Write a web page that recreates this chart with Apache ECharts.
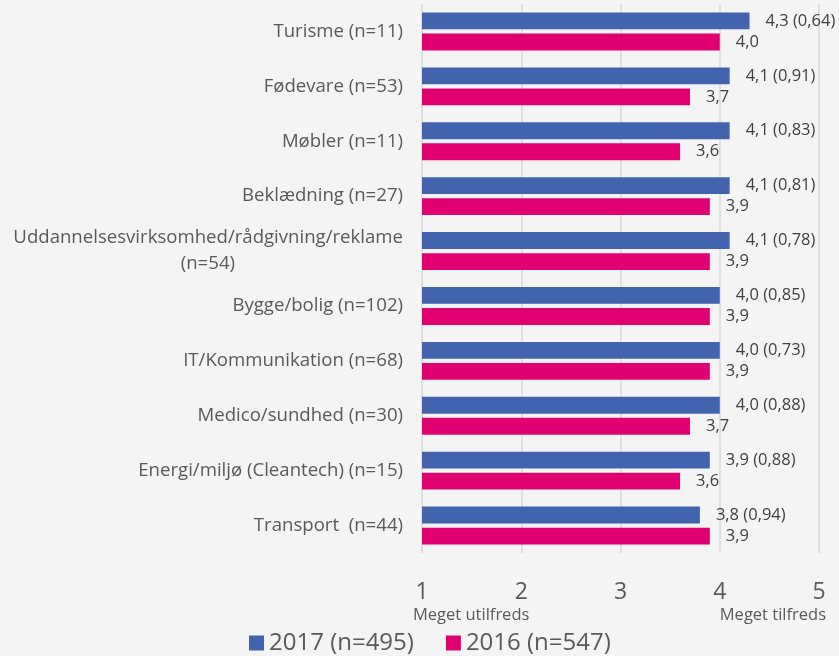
<!DOCTYPE html>
<html><head><meta charset="utf-8">
<script src="https://cdn.jsdelivr.net/npm/echarts@6/dist/echarts.min.js"></script>
<style>html,body{margin:0;padding:0;background:#f4f4f4}#c{width:839px;height:656px}</style>
</head><body><div id="c"></div>
<script>
const categories = ['Turisme (n=11)','Fødevare (n=53)','Møbler (n=11)','Beklædning (n=27)','Uddannelsesvirksomhed/rådgivning/reklame\n(n=54)','Bygge/bolig (n=102)','IT/Kommunikation (n=68)','Medico/sundhed (n=30)','Energi/miljø (Cleantech) (n=15)','Transport  (n=44)'];
const values2017 = [4.3,4.1,4.1,4.1,4.1,4.0,4.0,4.0,3.9,3.8];
const sd2017 = [0.64,0.91,0.83,0.81,0.78,0.85,0.73,0.88,0.88,0.94];
const values2016 = [4.0,3.7,3.6,3.9,3.9,3.9,3.9,3.7,3.6,3.9];
const xTicks = [1,2,3,4,5];
const seriesNames = ['2017 (n=495)','2016 (n=547)'];
const FONT = 'Open Sans';
const LABEL_SIZE = 18.6;
const fmt = v => v.toFixed(1).replace('.', ',');
const fmt2 = v => v.toFixed(2).replace('.', ',');
const font = LABEL_SIZE + 'px "' + FONT + '"';
const chart = echarts.init(document.getElementById('c'), null, {renderer:'canvas'});
// centre wrapped lines of a label under its first line
function catLabel(v){
  const lines = v.split('\n');
  if (lines.length === 1) return v;
  const w0 = echarts.format.getTextRect ? 0 : 0;
  const ctx = document.createElement('canvas').getContext('2d');
  ctx.font = font;
  const W = ctx.measureText(lines[0]).width;
  return lines.map((s,i)=>{
    if(i===0) return '{a|'+s+'}';
    const pad = Math.max(0,(W-ctx.measureText(s).width)/2);
    return '{p'+Math.round(pad)+'|'+s+'}';
  }).join('\n');
}
const rich = {a:{fontSize:LABEL_SIZE,lineHeight:26,color:'#595959',fontFamily:FONT}};
categories.forEach(c=>{
  const lines=c.split('\n'); if(lines.length<2) return;
  const ctx=document.createElement('canvas').getContext('2d'); ctx.font=font;
  const W=ctx.measureText(lines[0]).width;
  lines.slice(1).forEach(s=>{const pad=Math.round(Math.max(0,(W-ctx.measureText(s).width)/2));
    rich['p'+pad]={fontSize:LABEL_SIZE,lineHeight:26,color:'#595959',fontFamily:FONT,padding:[0,pad,0,0]};});
});
chart.setOption({
  backgroundColor:'#f4f4f4',
  animation:false,
  textStyle:{fontFamily:FONT},
  grid:{left:422,right:20,top:4,bottom:103,containLabel:false},
  legend:{top:631,left:249,padding:0,itemWidth:15,itemHeight:15,itemGap:32,icon:'rect',
    textStyle:{fontSize:24,color:'#595959',fontFamily:FONT},data:seriesNames},
  xAxis:{type:'value',min:xTicks[0],max:xTicks[xTicks.length-1],interval:1,
    axisLine:{show:false},axisTick:{show:false},
    splitLine:{lineStyle:{color:'#d9d9d9',width:1.5}},
    axisLabel:{fontSize:23,color:'#595959',margin:28,fontFamily:FONT}},
  yAxis:{type:'category',inverse:true,data:categories,
    axisLine:{show:false},axisTick:{show:false},
    axisLabel:{color:'#595959',margin:19,align:'right',fontFamily:FONT,fontSize:LABEL_SIZE,
      formatter:catLabel, rich:rich}},
  series:[
    {name:seriesNames[0],type:'bar',data:values2017,barCategoryGap:'31%',barGap:'25%',
     itemStyle:{color:'#4263ae'},
     label:{show:true,position:'right',distance:16,fontSize:16.5,color:'#404040',fontFamily:FONT,
       formatter:p=>fmt(p.value)+' ('+fmt2(sd2017[p.dataIndex])+')'}},
    {name:seriesNames[1],type:'bar',data:values2016,
     itemStyle:{color:'#e10072'},
     label:{show:true,position:'right',distance:16,fontSize:16.5,color:'#404040',fontFamily:FONT,
       formatter:p=>fmt(p.value)}}
  ]
});
const p1 = chart.convertToPixel({xAxisIndex:0},xTicks[0]);
const p5 = chart.convertToPixel({xAxisIndex:0},xTicks[xTicks.length-1]);
chart.setOption({graphic:[
  {type:'text',left:p1-9,top:607,style:{text:'Meget utilfreds',fontSize:16.5,fill:'#595959',fontFamily:FONT}},
  {type:'text',right:839-(p5+7),top:607,style:{text:'Meget tilfreds',fontSize:16.5,fill:'#595959',fontFamily:FONT}}
]});
</script></body></html>
